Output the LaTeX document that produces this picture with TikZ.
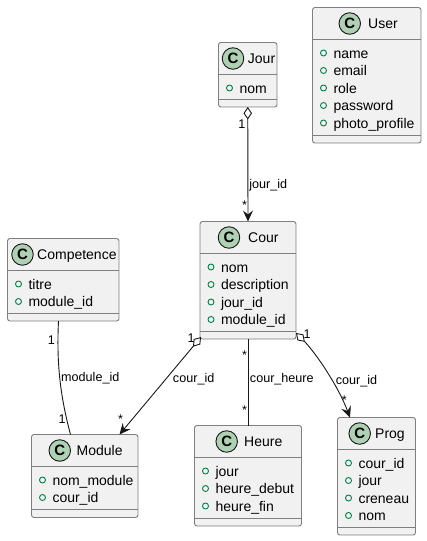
\documentclass[tikz,border=0pt]{standalone}
\usepackage{fontspec}
\setmainfont{Liberation Sans}
\usetikzlibrary{arrows.meta}

\definecolor{boxfill}{HTML}{F1F1F1}
\definecolor{boxline}{HTML}{7F7F7F}
\definecolor{iconfill}{HTML}{ADD1B2}
\definecolor{dotline}{HTML}{038048}
\definecolor{linkline}{HTML}{181818}

\tikzset{
	classbox/.style = {draw=boxline, fill=boxfill, line width=.9pt, rounded corners=2.5pt, inner sep=0pt, outer sep=0pt},
	classrule/.style = {draw=boxline, line width=.9pt},
	classicon/.style = {circle, draw=linkline, fill=iconfill, line width=.9pt, minimum size=21.5pt, inner sep=0pt, font=\fontsize{15}{15}\selectfont\bfseries},
	classtitle/.style = {anchor=base west, inner sep=0pt, font=\fontsize{14}{16}\selectfont},
	attrtext/.style = {anchor=base west, inner sep=0pt, font=\fontsize{14}{16}\selectfont},
	attrdot/.style = {circle, draw=dotline, line width=.9pt, minimum size=6pt, inner sep=0pt},
	link/.style = {draw=linkline, line width=.9pt},
	lbl/.style = {inner sep=0pt, text=black, font=\fontsize{12.6}{14}\selectfont},
	hasmany/.style = {{Diamond[length=12.5pt,width=8.5pt,fill=white]}-{Stealth[length=11pt,width=10pt,inset=4pt]}}
}

% name, centre, width, height, icon offset, title offset, title, attributes
\newcommand{\umlclass}[8]{
	\node[classbox, minimum width=#3pt, minimum height=#4pt] (#1) at (#2) {};
	\draw[classrule] ([yshift=-32pt]#1.north west) -- ([yshift=-32pt]#1.north east);
	\draw[classrule] ([yshift=8pt]#1.south west) -- ([yshift=8pt]#1.south east);
	\node[classicon] (#1-icon) at ([xshift=#5pt,yshift=-16pt]#1.north) {C};
	\node[classtitle] (#1-title) at ([xshift=#6pt,yshift=-21pt]#1.north) {#7};
	\foreach \attr [count=\i] in {#8} {
		\node[attrdot] (#1-dot\i) at ([xshift=11pt,yshift={-45.5-17.5*(\i-1)}]#1.north west) {};
		\node[attrtext] (#1-attr\i) at ([xshift=20.8pt,yshift={-50.5-17.5*(\i-1)}]#1.north west) {\attr};
	}
}

\begin{document}
\begin{tikzpicture}[x=1pt, y=-1pt]
	\useasboundingbox (0,0) rectangle (427,541);

	\umlclass{user}{366.75,75.25}{108.5}{135.5}{-17}{1.25}{User}{name,email,role,password,photo\_profile}
	\umlclass{jour}{247.75,74.75}{58.5}{64.5}{-14.75}{0}{Jour}{nom}
	\umlclass{cour}{248,280.25}{96}{117.5}{-19}{0}{Cour}{nom,description,jour\_id,module\_id}
	\umlclass{competence}{63.25,279.75}{111.5}{82.5}{-40.75}{-26.25}{Competence}{titre,module\_id}
	\umlclass{module}{84.75,476}{106.5}{83}{-25}{-8.25}{Module}{nom\_module,cour\_id}
	\umlclass{heure}{248,475.75}{107}{100.5}{-21.3}{-4}{Heure}{jour,heure\_debut,heure\_fin}
	\umlclass{prog}{376.5,476.25}{78}{117.5}{-16.8}{-1.5}{Prog}{cour\_id,jour,creneau,nom}

	\draw[link, hasmany] (jour.south) -- (cour.north)
		node[lbl, pos=.15, left=2pt] (jour-one) {1}
		node[lbl, pos=.68, right=1pt] (jour-name) {jour\_id}
		node[lbl, pos=.86, left=.5pt] (jour-many) {*};

	\draw[link, hasmany] ([xshift=1pt,yshift=2pt]cour.south west) -- ([xshift=34.75pt]module.north)
		node[lbl, pos=.01, left=5pt] (mod-one) {1}
		node[lbl, pos=.435, anchor=west, xshift=7pt] (mod-name) {cour\_id}
		node[lbl, pos=.84, left=9pt] (mod-many) {*};

	\draw[link] (cour.south) -- (heure.north)
		node[lbl, pos=.19, left=.5pt] (heure-many1) {*}
		node[lbl, pos=.47, right=1.5pt] (heure-name) {cour\_heure}
		node[lbl, pos=.82, left=.5pt] (heure-many2) {*};

	\draw[link, hasmany] ([yshift=6pt]cour.south east) .. controls +(19,19) and ([xshift=-38.5pt,yshift=32pt]prog.north) .. ([xshift=-26.5pt]prog.north)
		node[lbl, pos=.02, right=6pt] (prog-one) {1}
		node[lbl, pos=.62, anchor=west, xshift=3pt] (prog-name) {cour\_id}
		node[lbl, pos=.82, right=-1pt] (prog-many) {*};

	\draw[link] ([xshift=-4.75pt]competence.south) .. controls +(-2,40) and ([xshift=-25pt,yshift=40pt]module.north) .. ([xshift=-14.25pt]module.north)
		node[lbl, pos=.16, left=2.5pt] (comp-one) {1}
		node[lbl, pos=.505, right=1pt] (comp-name) {module\_id}
		node[lbl, pos=.87, left=.5pt] (comp-two) {1};
\end{tikzpicture}
\end{document}
